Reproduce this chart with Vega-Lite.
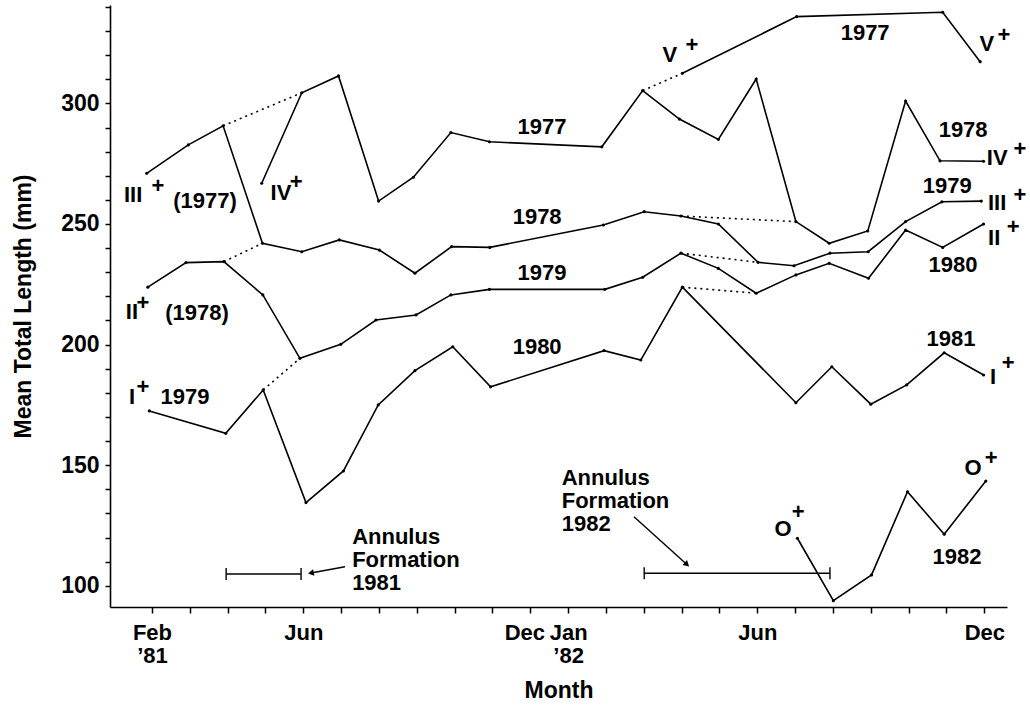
{
  "$schema": "https://vega.github.io/schema/vega-lite/v6.json",
  "width": 897,
  "height": 602,
  "autosize": {"type": "none"},
  "padding": {"left": 110, "top": 5, "right": 23, "bottom": 98},
  "background": "white",
  "config": {
    "view": {"stroke": null},
    "font": "Liberation Sans",
    "axis": {
      "domainColor": "black", "domainWidth": 1.6, "tickColor": "black", "tickWidth": 1.5,
      "grid": false, "labelColor": "black", "labelFont": "Liberation Sans", "labelFontWeight": "bold",
      "titleColor": "black", "titleFont": "Liberation Sans", "titleFontWeight": "bold"
    }
  },
  "datasets": {
    "lines": [
      {"series": "III+", "month": 1.86, "length": 271.0},
      {"series": "III+", "month": 2.96, "length": 282.8},
      {"series": "III+", "month": 3.88, "length": 290.7},
      {"series": "III+", "month": 4.92, "length": 242.0},
      {"series": "III+", "month": 5.96, "length": 238.5},
      {"series": "III+", "month": 6.95, "length": 243.4},
      {"series": "III+", "month": 8.01, "length": 239.2},
      {"series": "III+", "month": 8.95, "length": 229.6},
      {"series": "III+", "month": 9.92, "length": 240.6},
      {"series": "III+", "month": 10.93, "length": 240.3},
      {"series": "III+", "month": 13.93, "length": 249.6},
      {"series": "III+", "month": 15.01, "length": 255.1},
      {"series": "III+", "month": 15.98, "length": 253.3},
      {"series": "III+", "month": 16.97, "length": 250.0},
      {"series": "III+", "month": 18.02, "length": 234.1},
      {"series": "III+", "month": 18.97, "length": 232.7},
      {"series": "III+", "month": 19.92, "length": 237.9},
      {"series": "III+", "month": 20.93, "length": 238.5},
      {"series": "III+", "month": 21.92, "length": 251.0},
      {"series": "III+", "month": 22.88, "length": 259.2},
      {"series": "III+", "month": 23.92, "length": 259.5},
      {"series": "IV+", "month": 4.90, "length": 266.9},
      {"series": "IV+", "month": 5.96, "length": 304.4},
      {"series": "IV+", "month": 6.93, "length": 311.4},
      {"series": "IV+", "month": 7.99, "length": 259.5},
      {"series": "IV+", "month": 8.91, "length": 269.4},
      {"series": "IV+", "month": 9.90, "length": 287.9},
      {"series": "IV+", "month": 10.92, "length": 284.1},
      {"series": "IV+", "month": 13.89, "length": 282.0},
      {"series": "IV+", "month": 14.97, "length": 305.3},
      {"series": "IV+", "month": 15.94, "length": 293.5},
      {"series": "IV+", "month": 16.97, "length": 285.1},
      {"series": "IV+", "month": 17.97, "length": 310.1},
      {"series": "IV+", "month": 19.02, "length": 251.0},
      {"series": "IV+", "month": 19.90, "length": 242.0},
      {"series": "IV+", "month": 20.92, "length": 247.1},
      {"series": "IV+", "month": 21.92, "length": 301.0},
      {"series": "IV+", "month": 22.83, "length": 276.2},
      {"series": "IV+", "month": 23.98, "length": 276.0},
      {"series": "V+", "month": 16.02, "length": 312.5},
      {"series": "V+", "month": 19.04, "length": 336.0},
      {"series": "V+", "month": 22.90, "length": 337.8},
      {"series": "V+", "month": 23.89, "length": 317.3},
      {"series": "II+", "month": 1.89, "length": 223.8},
      {"series": "II+", "month": 2.90, "length": 234.0},
      {"series": "II+", "month": 3.90, "length": 234.4},
      {"series": "II+", "month": 4.93, "length": 220.6},
      {"series": "II+", "month": 5.91, "length": 194.3},
      {"series": "II+", "month": 6.99, "length": 200.1},
      {"series": "II+", "month": 7.92, "length": 210.2},
      {"series": "II+", "month": 8.98, "length": 212.3},
      {"series": "II+", "month": 9.90, "length": 220.6},
      {"series": "II+", "month": 10.92, "length": 222.9},
      {"series": "II+", "month": 13.97, "length": 222.9},
      {"series": "II+", "month": 14.97, "length": 227.9},
      {"series": "II+", "month": 15.98, "length": 237.9},
      {"series": "II+", "month": 16.97, "length": 231.6},
      {"series": "II+", "month": 17.97, "length": 221.3},
      {"series": "II+", "month": 19.02, "length": 228.9},
      {"series": "II+", "month": 19.90, "length": 233.7},
      {"series": "II+", "month": 20.94, "length": 227.5},
      {"series": "II+", "month": 21.92, "length": 247.5},
      {"series": "II+", "month": 22.90, "length": 240.3},
      {"series": "II+", "month": 23.98, "length": 250.0},
      {"series": "I+", "month": 1.93, "length": 172.5},
      {"series": "I+", "month": 3.95, "length": 163.2},
      {"series": "I+", "month": 4.94, "length": 181.2},
      {"series": "I+", "month": 6.07, "length": 134.5},
      {"series": "I+", "month": 7.06, "length": 147.6},
      {"series": "I+", "month": 7.98, "length": 175.0},
      {"series": "I+", "month": 8.95, "length": 189.2},
      {"series": "I+", "month": 9.95, "length": 199.1},
      {"series": "I+", "month": 10.95, "length": 182.5},
      {"series": "I+", "month": 13.95, "length": 197.5},
      {"series": "I+", "month": 14.92, "length": 193.6},
      {"series": "I+", "month": 16.02, "length": 223.8},
      {"series": "I+", "month": 19.02, "length": 175.9},
      {"series": "I+", "month": 19.97, "length": 190.8},
      {"series": "I+", "month": 21.00, "length": 175.3},
      {"series": "I+", "month": 21.95, "length": 183.3},
      {"series": "I+", "month": 22.94, "length": 196.6},
      {"series": "I+", "month": 23.98, "length": 187.4},
      {"series": "O+", "month": 19.06, "length": 119.7},
      {"series": "O+", "month": 20.01, "length": 93.8},
      {"series": "O+", "month": 21.02, "length": 104.5},
      {"series": "O+", "month": 21.97, "length": 139.0},
      {"series": "O+", "month": 22.94, "length": 121.4},
      {"series": "O+", "month": 24.04, "length": 143.4}
    ],
    "links": [
      {"link": "1977a", "month": 3.88, "length": 290.7},
      {"link": "1977a", "month": 5.96, "length": 304.4},
      {"link": "1978a", "month": 3.90, "length": 234.4},
      {"link": "1978a", "month": 4.92, "length": 242.0},
      {"link": "1979a", "month": 4.94, "length": 181.2},
      {"link": "1979a", "month": 5.91, "length": 194.3},
      {"link": "1977b", "month": 14.97, "length": 305.3},
      {"link": "1977b", "month": 16.02, "length": 312.5},
      {"link": "1978b", "month": 15.98, "length": 253.3},
      {"link": "1978b", "month": 19.02, "length": 251.0},
      {"link": "1979b", "month": 15.98, "length": 237.9},
      {"link": "1979b", "month": 18.02, "length": 234.1},
      {"link": "1980b", "month": 16.02, "length": 223.8},
      {"link": "1980b", "month": 17.97, "length": 221.3}
    ],
    "annulus": [
      {"year": "1981", "month": 3.96, "length": 104.9},
      {"year": "1981", "month": 5.94, "length": 104.9},
      {"year": "1982", "month": 15.01, "length": 105.2},
      {"year": "1982", "month": 19.92, "length": 105.2}
    ],
    "arrows": [
      {"year": "1981", "month": 7.10, "length": 107.9, "head": false},
      {"year": "1981", "month": 6.20, "length": 105.3, "head": true},
      {"year": "1982", "month": 14.74, "length": 128.6, "head": false},
      {"year": "1982", "month": 16.14, "length": 108.8, "head": true}
    ],
    "labels": [
      {"text": "III", "month": 1.50, "length": 262.0},
      {"text": "+", "month": 2.16, "length": 265.8},
      {"text": "(1977)", "month": 3.40, "length": 259.5},
      {"text": "IV", "month": 5.41, "length": 262.9},
      {"text": "+", "month": 5.81, "length": 267.4},
      {"text": "II", "month": 1.47, "length": 213.5},
      {"text": "+", "month": 1.76, "length": 217.2},
      {"text": "(1978)", "month": 3.19, "length": 213.1},
      {"text": "I", "month": 1.47, "length": 178.3},
      {"text": "+", "month": 1.76, "length": 182.4},
      {"text": "1979", "month": 2.87, "length": 178.3},
      {"text": "1977", "month": 12.31, "length": 290.2},
      {"text": "V", "month": 15.69, "length": 320.1},
      {"text": "+", "month": 16.27, "length": 324.3},
      {"text": "1978", "month": 12.18, "length": 252.9},
      {"text": "1979", "month": 12.31, "length": 229.7},
      {"text": "1980", "month": 12.18, "length": 199.0},
      {"text": "1977", "month": 20.85, "length": 329.2},
      {"text": "V", "month": 24.07, "length": 324.6},
      {"text": "+", "month": 24.52, "length": 328.4},
      {"text": "1978", "month": 23.44, "length": 289.0},
      {"text": "IV", "month": 24.34, "length": 277.4},
      {"text": "+", "month": 24.94, "length": 281.1},
      {"text": "1979", "month": 23.02, "length": 265.8},
      {"text": "III", "month": 24.34, "length": 258.7},
      {"text": "+", "month": 24.94, "length": 262.0},
      {"text": "II", "month": 24.26, "length": 244.2},
      {"text": "+", "month": 24.76, "length": 248.8},
      {"text": "1980", "month": 23.17, "length": 233.0},
      {"text": "1981", "month": 23.12, "length": 202.3},
      {"text": "I", "month": 24.23, "length": 186.6},
      {"text": "+", "month": 24.63, "length": 192.4},
      {"text": "O", "month": 18.68, "length": 123.5},
      {"text": "+", "month": 19.08, "length": 130.6},
      {"text": "O", "month": 23.70, "length": 148.8},
      {"text": "+", "month": 24.18, "length": 153.0},
      {"text": "1982", "month": 23.28, "length": 111.9}
    ],
    "notes": [
      {"text": "Annulus\nFormation\n1981", "month": 7.29, "length": 120.2},
      {"text": "Annulus\nFormation\n1982", "month": 12.83, "length": 144.7}
    ]
  },
  "encoding": {
    "x": {
      "field": "month", "type": "quantitative",
      "scale": {"domain": [0.89, 24.6], "nice": false, "zero": false},
      "axis": {
        "title": "Month",
        "values": [2, 3, 4, 5, 6, 7, 8, 9, 10, 11, 12, 13, 14, 15, 16, 17, 18, 19, 20, 21, 22, 23, 24],
        "labelExpr": "datum.value == 2 ? ['Feb', '’81'] : datum.value == 6 ? 'Jun' : datum.value == 12 ? 'Dec' : datum.value == 13 ? ['Jan', '’82'] : datum.value == 18 ? 'Jun' : datum.value == 24 ? 'Dec' : ''",
        "labelOffset": {"condition": {"test": "datum.value == 12", "value": -6}, "value": 0},
        "tickSize": 6, "labelPadding": 9, "labelFlush": false, "labelOverlap": false,
        "labelFontSize": 22, "labelLineHeight": 23,
        "titleFontSize": 23, "titlePadding": 13
      }
    },
    "y": {
      "field": "length", "type": "quantitative",
      "scale": {"domain": [91.2, 340.8], "nice": false, "zero": false},
      "axis": {
        "title": "Mean Total Length (mm)",
        "values": [100, 110, 120, 130, 140, 150, 160, 170, 180, 190, 200, 210, 220, 230, 240, 250, 260, 270, 280, 290, 300, 310, 320, 330, 340],
        "labelExpr": "datum.value % 50 == 0 ? datum.label : ''",
        "tickSize": 5, "labelPadding": 6, "labelFontSize": 23, "labelOverlap": false,
        "titleFontSize": 23, "titlePadding": 25
      }
    }
  },
  "layer": [
    {
      "data": {"name": "lines"},
      "mark": {"type": "line", "color": "black", "strokeWidth": 1.6},
      "encoding": {"detail": {"field": "series"}}
    },
    {
      "data": {"name": "links"},
      "mark": {"type": "line", "color": "black", "strokeWidth": 1.6, "strokeDash": [2, 4]},
      "encoding": {"detail": {"field": "link"}}
    },
    {
      "data": {"name": "lines"},
      "mark": {"type": "point", "filled": true, "color": "black", "size": 10, "opacity": 1}
    },
    {
      "data": {"name": "annulus"},
      "mark": {"type": "line", "color": "black", "strokeWidth": 1.4},
      "encoding": {"detail": {"field": "year"}}
    },
    {
      "data": {"name": "annulus"},
      "mark": {"type": "point", "shape": "M0,-1L0,1", "size": 144, "filled": false, "stroke": "black", "strokeWidth": 1.4, "opacity": 1}
    },
    {
      "data": {"name": "arrows"},
      "mark": {"type": "line", "color": "black", "strokeWidth": 1.4},
      "encoding": {"detail": {"field": "year"}}
    },
    {
      "data": {"name": "arrows"},
      "transform": [{"filter": "datum.head && datum.year == '1981'"}],
      "mark": {"type": "point", "shape": "triangle-left", "angle": -11, "size": 45, "filled": true, "color": "black", "opacity": 1}
    },
    {
      "data": {"name": "arrows"},
      "transform": [{"filter": "datum.head && datum.year == '1982'"}],
      "mark": {"type": "point", "shape": "triangle-right", "angle": 42, "size": 45, "filled": true, "color": "black", "opacity": 1}
    },
    {
      "data": {"name": "labels"},
      "mark": {"type": "text", "font": "Liberation Sans", "fontWeight": "bold", "fontSize": 22, "align": "center", "baseline": "middle", "color": "black"},
      "encoding": {"text": {"field": "text"}}
    },
    {
      "data": {"name": "notes"},
      "mark": {"type": "text", "font": "Liberation Sans", "fontWeight": "bold", "fontSize": 22, "align": "left", "baseline": "middle", "lineBreak": "\n", "lineHeight": 23, "color": "black"},
      "encoding": {"text": {"field": "text"}}
    }
  ]
}
